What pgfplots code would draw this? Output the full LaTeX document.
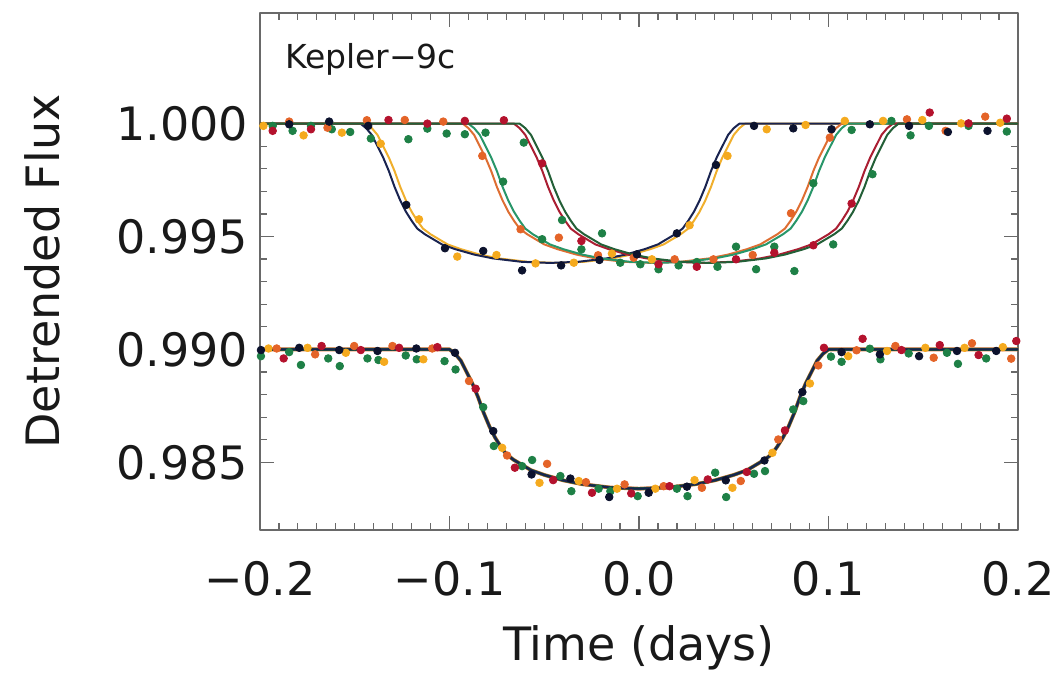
\documentclass[border=0pt]{standalone}
\usepackage{pgfplots}
\pgfplotsset{compat=1.18}
\usepackage{pgfplotstable}
\usepackage{fontspec}
\setmainfont{DejaVu Sans}
\definecolor{axgray}{RGB}{105,105,105}
\definecolor{txt}{RGB}{25,25,25}
\definecolor{cblk}{RGB}{12,18,45}
\definecolor{cgold}{RGB}{245,170,30}
\definecolor{corg}{RGB}{228,100,40}
\definecolor{cred}{RGB}{180,18,45}
\definecolor{cgrn}{RGB}{30,128,70}
\definecolor{lblk}{RGB}{25,35,80}
\definecolor{lgold}{RGB}{240,175,45}
\definecolor{lorg}{RGB}{222,110,50}
\definecolor{lteal}{RGB}{40,150,105}
\definecolor{lred}{RGB}{170,30,50}
\definecolor{ldkg}{RGB}{35,95,55}

\pgfplotstableread{
xk xg xo xt xr xd xz fu fl
-0.200 -0.200 -0.200 -0.200 -0.200 -0.200 -0.200 1.00000 0.99000
-0.147 -0.144 -0.093 -0.090 -0.066 -0.063 -0.100 1.00000 0.99000
-0.144 -0.141 -0.090 -0.087 -0.063 -0.060 -0.097 0.99980 0.98980
-0.141 -0.138 -0.087 -0.084 -0.060 -0.057 -0.094 0.99950 0.98950
-0.138 -0.135 -0.084 -0.081 -0.057 -0.054 -0.091 0.99900 0.98900
-0.135 -0.132 -0.081 -0.078 -0.054 -0.051 -0.088 0.99850 0.98850
-0.132 -0.129 -0.078 -0.075 -0.051 -0.048 -0.085 0.99790 0.98790
-0.129 -0.126 -0.075 -0.072 -0.048 -0.045 -0.082 0.99720 0.98720
-0.126 -0.123 -0.072 -0.069 -0.045 -0.042 -0.079 0.99660 0.98660
-0.123 -0.120 -0.069 -0.066 -0.042 -0.039 -0.076 0.99610 0.98610
-0.120 -0.117 -0.066 -0.063 -0.039 -0.036 -0.073 0.99570 0.98570
-0.117 -0.114 -0.063 -0.060 -0.036 -0.033 -0.070 0.99535 0.98535
-0.113 -0.110 -0.059 -0.056 -0.032 -0.029 -0.066 0.99510 0.98510
-0.109 -0.106 -0.055 -0.052 -0.028 -0.025 -0.062 0.99490 0.98490
-0.104 -0.101 -0.050 -0.047 -0.023 -0.020 -0.057 0.99465 0.98465
-0.097 -0.094 -0.043 -0.040 -0.016 -0.013 -0.050 0.99444 0.98444
-0.087 -0.084 -0.033 -0.030 -0.006 -0.003 -0.040 0.99420 0.98420
-0.077 -0.074 -0.023 -0.020 0.004 0.007 -0.030 0.99403 0.98403
-0.062 -0.059 -0.008 -0.005 0.019 0.022 -0.015 0.99388 0.98388
-0.047 -0.044 0.007 0.010 0.034 0.037 0.000 0.99383 0.98383
-0.032 -0.029 0.022 0.025 0.049 0.052 0.015 0.99388 0.98388
-0.017 -0.014 0.037 0.040 0.064 0.067 0.030 0.99403 0.98403
-0.007 -0.004 0.047 0.050 0.074 0.077 0.040 0.99420 0.98420
0.003 0.006 0.057 0.060 0.084 0.087 0.050 0.99444 0.98444
0.010 0.013 0.064 0.067 0.091 0.094 0.057 0.99465 0.98465
0.015 0.018 0.069 0.072 0.096 0.099 0.062 0.99490 0.98490
0.019 0.022 0.073 0.076 0.100 0.103 0.066 0.99510 0.98510
0.023 0.026 0.077 0.080 0.104 0.107 0.070 0.99535 0.98535
0.026 0.029 0.080 0.083 0.107 0.110 0.073 0.99570 0.98570
0.029 0.032 0.083 0.086 0.110 0.113 0.076 0.99610 0.98610
0.032 0.035 0.086 0.089 0.113 0.116 0.079 0.99660 0.98660
0.035 0.038 0.089 0.092 0.116 0.119 0.082 0.99720 0.98720
0.038 0.041 0.092 0.095 0.119 0.122 0.085 0.99790 0.98790
0.041 0.044 0.095 0.098 0.122 0.125 0.088 0.99850 0.98850
0.044 0.047 0.098 0.101 0.125 0.128 0.091 0.99900 0.98900
0.047 0.050 0.101 0.104 0.128 0.131 0.094 0.99950 0.98950
0.050 0.053 0.104 0.107 0.131 0.134 0.097 0.99980 0.98980
0.053 0.056 0.107 0.110 0.134 0.137 0.100 1.00000 0.99000
0.200 0.200 0.200 0.200 0.200 0.200 0.200 1.00000 0.99000
}\model

% black points (upper and lower panels)
\pgfplotstableread{
x y
-0.1846 0.99997
-0.1635 1.00009
-0.1429 0.99990
-0.1228 0.99640
-0.1024 0.99448
-0.0822 0.99436
-0.0617 0.99350
-0.0411 0.99372
-0.0209 0.99396
-0.0011 0.99421
0.0200 0.99514
0.0406 0.99817
0.0607 0.99990
0.0814 0.99979
0.1016 0.99975
0.1218 0.99997
0.1425 0.99990
0.1630 0.99963
0.1839 0.99968
-0.1995 0.98997
-0.1793 0.99007
-0.1582 0.98997
-0.1380 0.98993
-0.1175 0.99004
-0.0971 0.98985
-0.0769 0.98638
-0.0567 0.98446
-0.0362 0.98428
-0.0157 0.98346
0.0051 0.98365
0.0253 0.98392
0.0458 0.98420
0.0662 0.98508
0.0862 0.98811
0.1069 0.98988
0.1271 0.98978
0.1478 0.98970
0.1678 0.98993
0.1885 0.98993
}\pblk

\pgfplotstableread{
x y
-0.1982 0.99990
-0.1770 0.99948
-0.1568 0.99960
-0.1363 0.99911
-0.1161 0.99576
-0.0959 0.99411
-0.0752 0.99418
-0.0546 0.99381
-0.0344 0.99384
-0.0143 0.99424
0.0068 0.99399
0.0267 0.99550
0.0467 0.99857
0.0674 0.99975
0.0879 0.99994
0.1086 1.00012
0.1288 1.00012
0.1495 1.00016
0.1700 1.00001
0.1906 1.00004
-0.1955 0.99004
-0.1749 0.99007
-0.1547 0.98985
-0.1345 0.98945
-0.1138 0.98956
-0.0722 0.98564
-0.0525 0.98409
-0.0318 0.98417
-0.0116 0.98383
0.0086 0.98383
0.0293 0.98421
0.0493 0.98387
0.0704 0.98542
0.0902 0.98849
0.1104 0.98970
0.1309 0.98993
0.1511 0.99007
0.1718 0.99007
0.1920 0.99010
}\pgold

\pgfplotstableread{
x y
-0.1846 1.00009
-0.1644 0.99982
-0.1436 1.00015
-0.1236 1.00016
-0.1033 1.00009
-0.0827 0.99857
-0.0625 0.99532
-0.0423 0.99495
-0.0216 0.99417
-0.0028 0.99406
0.0188 0.99399
0.0393 0.99399
0.0600 0.99418
0.0802 0.99603
0.1007 0.99938
0.1414 1.00019
0.1618 0.99968
0.1827 1.00031
-0.1912 0.99004
-0.1709 0.98978
-0.1503 0.99015
-0.1301 0.99015
-0.1091 0.99004
-0.0897 0.98860
-0.0696 0.98530
-0.0485 0.98493
-0.0280 0.98412
-0.0076 0.98402
0.0130 0.98394
0.0332 0.98387
0.0537 0.98417
0.0735 0.98601
0.0946 0.98929
0.1148 0.98996
0.1353 0.99015
0.1555 0.98963
0.1757 0.99027
0.1964 0.98959
}\porg

\pgfplotstableread{
x y
-0.1933 0.99968
-0.1731 0.99975
-0.1322 1.00016
-0.1117 1.00000
-0.0919 1.00012
-0.0713 1.00015
-0.0511 0.99824
-0.0304 0.99480
0.0103 0.99377
0.0305 0.99366
0.0512 0.99399
0.0714 0.99428
0.0920 0.99461
0.1122 0.99646
0.1534 1.00049
0.1739 1.00001
0.1941 1.00022
-0.1875 0.98960
-0.1675 0.99015
-0.1468 0.98997
-0.1266 0.99007
-0.1064 0.99010
-0.0862 0.98826
-0.0655 0.98476
-0.0453 0.98421
-0.0248 0.98365
-0.0041 0.98362
0.0161 0.98394
0.0363 0.98424
0.0569 0.98457
0.0770 0.98641
0.0976 0.99007
0.1180 0.99047
0.1385 0.98997
0.1587 0.99019
0.1792 0.98975
0.1991 0.99037
}\pred

\pgfplotstableread{
x y
-0.1933 0.99990
-0.1731 0.99990
-0.1524 0.99963
-0.1117 0.99978
-0.0919 0.99953
-0.0717 0.99743
-0.0511 0.99488
-0.0304 0.99443
-0.0099 0.99384
0.0103 0.99355
0.0305 0.99387
0.0512 0.99455
0.0714 0.99455
0.0920 0.99736
0.1122 0.99972
0.1332 1.00012
0.1530 0.99990
0.1739 0.99990
0.1941 0.99965
-0.1828 0.99968
-0.1621 0.99975
-0.1415 0.99934
-0.1217 0.99931
-0.1015 0.99956
-0.0810 0.99960
-0.0608 0.99916
-0.0406 0.99573
-0.0195 0.99514
0.0007 0.99377
0.0209 0.99372
0.0414 0.99366
0.0618 0.99355
0.0820 0.99347
0.1025 0.99465
0.1232 0.99776
0.1433 0.99948
-0.1995 0.98970
-0.1846 0.98988
-0.1784 0.98931
-0.1640 0.98960
-0.1579 0.98926
-0.1433 0.98960
-0.1375 0.98953
-0.1231 0.98973
-0.1173 0.98956
-0.1026 0.98948
-0.0968 0.98911
-0.0822 0.98744
-0.0766 0.98572
-0.0617 0.98483
-0.0564 0.98510
-0.0415 0.98439
-0.0357 0.98372
-0.0213 0.98383
-0.0151 0.98372
-0.0007 0.98350
0.0200 0.98383
0.0256 0.98350
0.0402 0.98454
0.0460 0.98346
0.0607 0.98449
0.0665 0.98461
0.0814 0.98734
0.0867 0.98771
0.1013 0.98968
0.1069 0.98945
0.1218 0.99003
0.1274 0.98956
0.1423 0.98982
0.1625 0.98985
0.1683 0.98936
0.1832 0.98960
}\pgrn

\begin{document}
\begin{tikzpicture}
\path[use as bounding box] (-130pt,-75pt) rectangle (396pt,265pt);
\begin{axis}[
  name=ax, at={(0pt,0pt)}, anchor=south west,
  width=379pt, height=258.5pt, scale only axis,
  xmin=-0.2, xmax=0.2, ymin=0.9820, ymax=1.0049,
  xtick={-0.2,-0.1,0,0.1,0.2},
  xticklabels={−0.2,−0.1,0.0,0.1,0.2},
  ytick={0.985,0.990,0.995,1.000},
  yticklabels={0.985,0.990,0.995,1.000},
  scaled ticks=false,
  minor x tick num=9, minor y tick num=4,
  tick align=inside, tick pos=both,
  xticklabel pos=lower, yticklabel pos=left,
  major tick length=7pt, minor tick length=3.5pt,
  every tick/.style={color=axgray, line width=0.6pt},
  axis line style={color=axgray, line width=1pt},
  tick label style={font=\fontsize{23}{27}\selectfont, color=txt},
  xticklabel style={yshift=-12pt},
  yticklabel style={xshift=-2.5pt},
  xlabel={Time (days)}, ylabel={Detrended Flux},
  label style={font=\fontsize{23}{27}\selectfont, color=txt},
  xlabel style={at={(axis description cs:0.5,-0.2282)}, anchor=center},
  ylabel style={at={(axis description cs:-0.2876,0.5)}, anchor=center},
  line join=round,
]
% model curves, upper panel
\addplot[no marks, lgold, line width=1pt] table[x=xg, y=fu] {\model};
\addplot[no marks, lblk, line width=1pt] table[x=xk, y=fu] {\model};
\addplot[no marks, lorg, line width=1pt] table[x=xo, y=fu] {\model};
\addplot[no marks, lteal, line width=1pt] table[x=xt, y=fu] {\model};
\addplot[no marks, lred, line width=1pt] table[x=xr, y=fu] {\model};
\addplot[no marks, ldkg, line width=1pt] table[x=xd, y=fu] {\model};
% model curves, lower panel (folded)
\addplot[no marks, lorg, line width=1.9pt] table[x=xz, y=fl] {\model};
\addplot[no marks, ldkg, line width=1.5pt] table[x=xz, y=fl] {\model};
\addplot[no marks, lblk, line width=1pt] table[x=xz, y=fl] {\model};
% data points
\addplot[only marks, mark=*, mark size=1.9pt, cgrn] table {\pgrn};
\addplot[only marks, mark=*, mark size=1.9pt, cgold] table {\pgold};
\addplot[only marks, mark=*, mark size=1.9pt, corg] table {\porg};
\addplot[only marks, mark=*, mark size=1.9pt, cred] table {\pred};
\addplot[only marks, mark=*, mark size=1.9pt, cblk] table {\pblk};
\node[anchor=base west, font=\fontsize{16.5}{19}\selectfont, color=txt]
  at (axis description cs:0.0237,0.893) {Kepler−9c};
\end{axis}
\end{tikzpicture}
\end{document}
